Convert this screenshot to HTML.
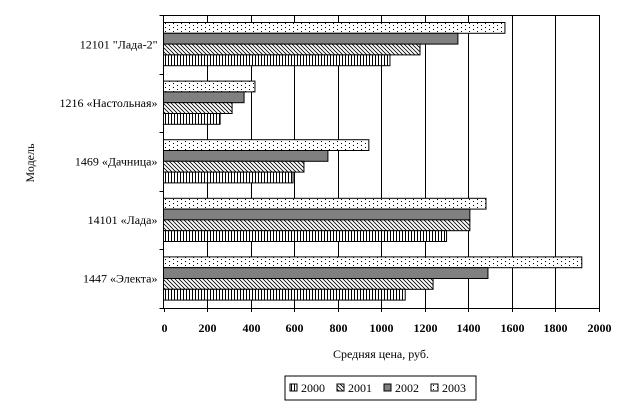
<!DOCTYPE html>
<html><head><meta charset="utf-8"><style>
body{margin:0;background:#fff;}
svg text{font-family:"Liberation Serif","DejaVu Serif",serif;font-size:12px;fill:#000;}
</style></head><body>
<svg id="chart" width="631" height="410">
<defs>
<pattern id="p2000" width="3" height="4" patternUnits="userSpaceOnUse"><rect width="3" height="4" fill="#fff"/><line x1="0.5" y1="0" x2="0.5" y2="4" stroke="#000" stroke-width="1"/></pattern>
<pattern id="p2001" width="4" height="4" patternUnits="userSpaceOnUse"><rect width="4" height="4" fill="#fff"/><path d="M0,0 L4,4 M-1,3 L1,5 M3,-1 L5,1" stroke="#000" stroke-width="0.8"/></pattern>
<pattern id="p2003" width="8" height="4" patternUnits="userSpaceOnUse"><rect width="8" height="4" fill="#fff"/><rect x="1" y="1" width="1" height="1" fill="#000"/><rect x="5" y="3" width="1" height="1" fill="#000"/></pattern>
</defs>
<g id="grid"></g><g id="bars"></g><g id="axes"></g>
<text x="381" y="358" text-anchor="middle">Средняя цена, руб.</text>
<text transform="translate(34,163) rotate(-90)" text-anchor="middle">Модель</text>
<g>
<rect x="285" y="376" width="191" height="24" fill="#fff" stroke="#000"/>
<g><rect x="290" y="384" width="7" height="7" fill="url(#p2000)" stroke="#000"/><text x="301" y="392">2000</text></g>
<g><rect x="337" y="384" width="7" height="7" fill="url(#p2001)" stroke="#000"/><text x="348" y="392">2001</text></g>
<g><rect x="384" y="384" width="7" height="7" fill="#808080" stroke="#000"/><text x="395" y="392">2002</text></g>
<g><rect x="431" y="384" width="7" height="7" fill="url(#p2003)" stroke="#000"/><text x="442" y="392">2003</text></g>
</g>
</svg>
<script>
const categories=['12101 "Лада-2"','1216 «Настольная»','1469 «Дачница»','14101 «Лада»','1447 «Электа»'];
const s2000=[1040,260,595,1300,1110];
const s2001=[1178,315,645,1407,1238];
const s2002=[1352,370,755,1407,1490];
const s2003=[1568,420,943,1481,1921];
const ticks=[0,200,400,600,800,1000,1200,1400,1600,1800,2000];
const NS='http://www.w3.org/2000/svg';
const X0=163.5,X1=599,Y0=15,Y1=308,MAX=2000;
const xs=v=>X0+(X1-X0)*v/MAX;
const band=(Y1-Y0)/categories.length;
const gridG=document.getElementById('grid'),barsG=document.getElementById('bars'),axesG=document.getElementById('axes');
function mk(tag,attrs,parent){const e=document.createElementNS(NS,tag);for(const k in attrs)e.setAttribute(k,attrs[k]);parent.appendChild(e);return e;}
ticks.forEach(t=>{
  const x=Math.round(xs(t))+0.5;
  if(t>0){const g=mk('line',{x1:x,y1:Y0,x2:x,y2:Y1,stroke:'#000'},gridG);
  
  }
  const tk=mk('line',{x1:x,y1:Y1,x2:x,y2:Y1+4,stroke:'#000'},axesG);
  
  
  const tx=mk('text',{x:x,y:Y1+24,'text-anchor':'middle','font-weight':'bold'},axesG);
  tx.textContent=t;
  
  
});
const topBorder=mk('line',{x1:X0,y1:Y0+0.5,x2:X1,y2:Y0+0.5,stroke:'#000'},gridG);


const series=[[s2003,'url(#p2003)','2003'],[s2002,'#808080','2002'],[s2001,'url(#p2001)','2001'],[s2000,'url(#p2000)','2000']];
const bh=10.8;
categories.forEach((c,i)=>{
  const by=Y0+band*i;
  series.forEach((s,j)=>{
    const y=by+7.5+j*bh;
    const r=mk('rect',{x:X0,y:y,width:xs(s[0][i])-X0,height:bh,fill:s[1],stroke:'#000','stroke-width':1},barsG);
    
    
  });
  const yt=Math.round(Y0+band*(i+1))+0.5;
  const t=mk('line',{x1:X0-4,y1:yt,x2:X0,y2:yt,stroke:'#000'},axesG);
  
  
  const lb=mk('text',{x:X0-6,y:by+band/2+4,'text-anchor':'end'},axesG);
  lb.textContent=c;
  
  
});
const yt0=mk('line',{x1:X0-4,y1:Y0+0.5,x2:X0,y2:Y0+0.5,stroke:'#000'},axesG);


const ya=mk('line',{x1:X0,y1:Y0,x2:X0,y2:Y1,stroke:'#000'},axesG);


const xa=mk('line',{x1:X0,y1:Y1+0.5,x2:X1,y2:Y1+0.5,stroke:'#000'},axesG);


</script>
</body></html>
